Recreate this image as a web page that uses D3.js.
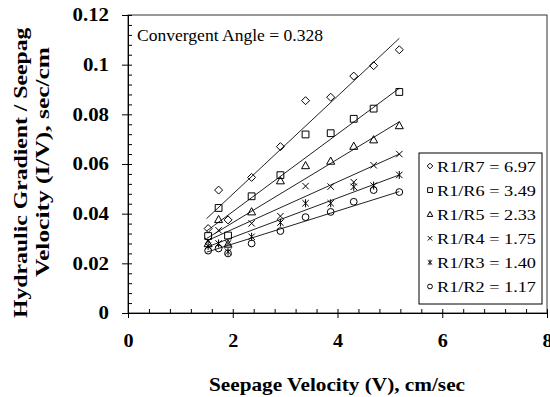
<!DOCTYPE html>
<html><head><meta charset="utf-8">
<script src="https://cdn.jsdelivr.net/npm/d3@7"></script>
<style>
html,body{margin:0;padding:0;background:#fff;}
svg{display:block;}
</style></head>
<body>
<script>
// ---- data ----
const velocity = [1.53, 1.73, 1.91, 2.36, 2.91, 3.39, 3.87, 4.31, 4.69, 5.18];
const seriesNames = ["R1/R7 = 6.97", "R1/R6 = 3.49", "R1/R5 = 2.33", "R1/R4 = 1.75", "R1/R3 = 1.40", "R1/R2 = 1.17"];
const r7 = [0.0340, 0.0495, 0.0375, 0.0546, 0.0670, 0.0855, 0.0869, 0.0954, 0.0996, 0.1060];
const r6 = [0.0310, 0.0423, 0.0312, 0.0470, 0.0555, 0.0719, 0.0724, 0.0782, 0.0823, 0.0890];
const r5 = [0.0280, 0.0377, 0.0278, 0.0408, 0.0533, 0.0594, 0.0612, 0.0672, 0.0698, 0.0755];
const r4 = [0.0290, 0.0333, 0.0280, 0.0361, 0.0390, 0.0511, 0.0509, 0.0527, 0.0595, 0.0640];
const r3 = [0.0270, 0.0280, 0.0247, 0.0307, 0.0364, 0.0442, 0.0442, 0.0508, 0.0513, 0.0556];
const r2 = [0.0251, 0.0260, 0.0240, 0.0280, 0.0330, 0.0386, 0.0407, 0.0448, 0.0495, 0.0487];
// trend lines: value at fitX[0] and fitX[1]
const fitX = [1.5, 5.18];
const fit7 = [0.0380, 0.1106];
const fit6 = [0.0330, 0.0905];
const fit5 = [0.0300, 0.0770];
const fit4 = [0.0290, 0.0640];
const fit3 = [0.0265, 0.0556];
const fit2 = [0.0245, 0.0489];
const markers = ["diamond", "square", "triangle", "cross", "star", "circle"];
const xTicks = [0, 2, 4, 6, 8];
const yTicks = [0, 0.02, 0.04, 0.06, 0.08, 0.1, 0.12];
const yTickLabels = ["0", "0.02", "0.04", "0.06", "0.08", "0.1", "0.12"];
const annotation = "Convergent Angle = 0.328";
const xTitle = "Seepage Velocity (V), cm/sec";
const yTitle1 = "Hydraulic Gradient / Seepage";
const yTitle2 = "Velocity (I/V), sec/cm";

const allVals = [r7, r6, r5, r4, r3, r2];
const allFits = [fit7, fit6, fit5, fit4, fit3, fit2];
const FONT = "Liberation Serif";

const W = 550, H = 397;
const svg = d3.select("body").append("svg").attr("width", W).attr("height", H);
const x = d3.scaleLinear().domain([0, 8]).range([128, 547]);
const y = d3.scaleLinear().domain([0, 0.12]).range([313, 15]);

function stretch(sel, f) {
  sel.each(function () {
    const L = this.getComputedTextLength();
    d3.select(this).attr("textLength", L * f).attr("lengthAdjust", "spacingAndGlyphs");
  });
}

function markerPath(type, s) {
  const p = d3.path();
  if (type === "diamond") { p.moveTo(0, -s); p.lineTo(s, 0); p.lineTo(0, s); p.lineTo(-s, 0); p.closePath(); }
  else if (type === "square") { const h = s * 0.85; p.rect(-h, -h, 2 * h, 2 * h); }
  else if (type === "triangle") { p.moveTo(0, -s); p.lineTo(s, s * 0.8); p.lineTo(-s, s * 0.8); p.closePath(); }
  else if (type === "cross") { const h = s * 0.8; p.moveTo(-h, -h); p.lineTo(h, h); p.moveTo(-h, h); p.lineTo(h, -h); }
  else if (type === "star") { const h = s * 0.8; p.moveTo(-h, -h); p.lineTo(h, h); p.moveTo(-h, h); p.lineTo(h, -h); p.moveTo(0, -s); p.lineTo(0, s); }
  else if (type === "circle") { const r = s * 0.85; p.moveTo(r, 0); p.arc(0, 0, r, 0, 2 * Math.PI); }
  return p.toString();
}

// plot frame
svg.append("rect").attr("x", x(0)).attr("y", y(0.12)).attr("width", x(8) - x(0)).attr("height", y(0) - y(0.12))
  .attr("fill", "none").attr("stroke", "#333").attr("stroke-width", 1);

// axes
const xAxis = svg.append("g").attr("transform", `translate(0,${y(0)})`)
  .call(d3.axisBottom(x).tickValues(xTicks).tickSize(5).tickSizeOuter(0).tickPadding(16).tickFormat(d3.format("d")));
const xMinor = svg.append("g").attr("transform", `translate(0,${y(0)})`)
  .call(d3.axisTop(x).tickValues(d3.range(0, 8.001, 0.4)).tickSize(4).tickSizeOuter(0).tickFormat(""));
const yAxis = svg.append("g").attr("transform", `translate(${x(0)},0)`)
  .call(d3.axisLeft(y).tickValues(yTicks).tickSize(6).tickSizeOuter(0).tickPadding(13).tickFormat((d, i) => yTickLabels[i]));
const yMinor = svg.append("g").attr("transform", `translate(${x(0)},0)`)
  .call(d3.axisRight(y).tickValues(d3.range(0, 0.1201, 0.004)).tickSize(4).tickSizeOuter(0).tickFormat(""));
[xAxis, xMinor, yAxis, yMinor].forEach(g => {
  g.selectAll("path,line").attr("stroke", "#000").attr("stroke-width", 1);
  g.selectAll("text").style("font-family", FONT).style("font-size", "18px").style("font-weight", "bold").attr("fill", "#000");
});
stretch(xAxis.selectAll("text"), 1.12);
stretch(yAxis.selectAll("text"), 1.16);

// trend lines
const line = d3.line().x(d => x(d[0])).y(d => y(d[1]));
allFits.forEach(f => {
  svg.append("path").attr("d", line([[fitX[0], f[0]], [fitX[1], f[1]]]))
    .attr("fill", "none").attr("stroke", "#222").attr("stroke-width", 1);
});

// markers
allVals.forEach((vals, si) => {
  svg.append("g").selectAll("path").data(vals).join("path")
    .attr("transform", (d, i) => `translate(${x(velocity[i])},${y(d)})`)
    .attr("d", markerPath(markers[si], 4))
    .attr("fill", "none").attr("stroke", "#000").attr("stroke-width", 1);
});

// annotation
svg.append("text").attr("x", 137).attr("y", 41).style("font-family", FONT).style("font-size", "17px").attr("fill", "#000")
  .text(annotation).attr("textLength", 186).attr("lengthAdjust", "spacingAndGlyphs");

// legend
const lg = svg.append("g");
lg.append("rect").attr("x", 419).attr("y", 153).attr("width", 123).attr("height", 151)
  .attr("fill", "#fff").attr("stroke", "#000").attr("stroke-width", 1);
seriesNames.forEach((name, i) => {
  const cy = 166 + i * 24.1;
  lg.append("path").attr("transform", `translate(430,${cy})`).attr("d", markerPath(markers[i], 2.8))
    .attr("fill", "none").attr("stroke", "#000").attr("stroke-width", 1);
  lg.append("text").attr("x", 437).attr("y", cy + 5.5).style("font-family", FONT).style("font-size", "15.5px").attr("fill", "#000")
    .text(name).attr("textLength", 99).attr("lengthAdjust", "spacingAndGlyphs");
});

// axis titles
svg.append("text").attr("x", 337).attr("y", 391).attr("text-anchor", "middle")
  .style("font-family", FONT).style("font-size", "19px").style("font-weight", "bold").attr("fill", "#000")
  .text(xTitle).attr("textLength", 256).attr("lengthAdjust", "spacingAndGlyphs");

svg.append("clipPath").attr("id", "yclip").append("rect").attr("x", 0).attr("y", 27).attr("width", 70).attr("height", 370);
const yt1 = svg.append("g").attr("clip-path", "url(#yclip)");
yt1.append("text").attr("transform", "translate(27,318) rotate(-90)")
  .style("font-family", FONT).style("font-size", "19px").style("font-weight", "bold").attr("fill", "#000")
  .text(yTitle1).attr("textLength", 301).attr("lengthAdjust", "spacingAndGlyphs");
svg.append("text").attr("transform", "translate(49,277) rotate(-90)")
  .style("font-family", FONT).style("font-size", "19px").style("font-weight", "bold").attr("fill", "#000")
  .text(yTitle2).attr("textLength", 230).attr("lengthAdjust", "spacingAndGlyphs");
</script>
</body></html>
